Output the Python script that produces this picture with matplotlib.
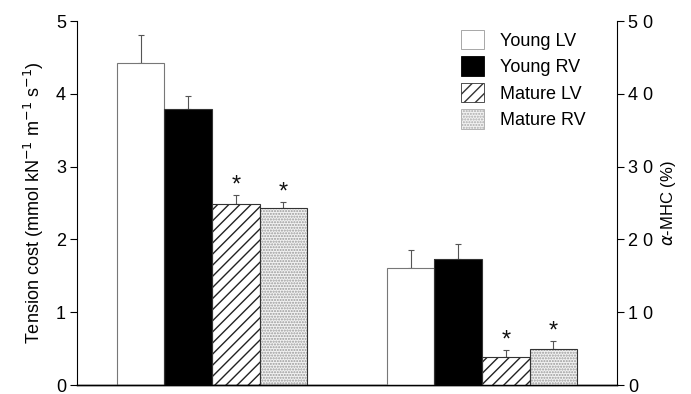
import matplotlib.pyplot as plt
import numpy as np
from matplotlib.patches import Patch
from matplotlib.ticker import FixedLocator, FixedFormatter

plt.rcParams['font.family'] = ['Liberation Sans', 'DejaVu Sans']

series = ["Young LV", "Young RV", "Mature LV", "Mature RV"]
# left group: tension cost (mmol kN-1 m-1 s-1)
tension = [4.42, 3.79, 2.49, 2.43]
tension_err = [0.39, 0.18, 0.12, 0.09]
# right group: alpha-MHC (%)
mhc = [16.1, 17.3, 3.8, 4.9]
mhc_err = [2.4, 2.0, 1.0, 1.2]
signif = [False, False, True, True]

left_ticks = [0, 1, 2, 3, 4, 5]
right_ticks = [0, 10, 20, 30, 40, 50]
right_ticklabels = ["0", "1 0", "2 0", "3 0", "4 0", "5 0"]

fig = plt.figure(figsize=(6.91, 3.94), dpi=100)
ax = fig.add_axes([77 / 691, 9 / 394, 540 / 691, 364 / 394])
ax2 = ax.twinx()

w = 1.0
x1 = np.arange(4) * w
x2 = x1 + 5.68
ax.set_xlim(-0.5 - 0.84, x2[-1] + 0.5 + 0.84)
ax.set_ylim(0, 5)
ax2.set_ylim(0, 50)

styles = [
    dict(facecolor="white", hatch=None, hcolor="#888888"),
    dict(facecolor="black", hatch=None, hcolor="black"),
    dict(facecolor="white", hatch="///", hcolor="#222222"),
    dict(facecolor="#f2f2f2", hatch="......", hcolor="#9a9a9a"),
]


def draw_bars(axis, xs, vals, errs, scale):
    for i, (x, v, e) in enumerate(zip(xs, vals, errs)):
        st = styles[i]
        axis.errorbar(x, v, yerr=[[0], [e]], fmt="none", ecolor="#555555",
                      elinewidth=0.8, capsize=2.5, capthick=0.8, zorder=1)
        axis.bar(x, v, width=w, color=st["facecolor"], edgecolor=st["hcolor"],
                 hatch=st["hatch"], linewidth=0, zorder=2)
        edge = "#777777" if i == 0 else "#333333"
        axis.bar(x, v, width=w, fill=False, edgecolor=edge, linewidth=0.8, zorder=3)
        if signif[i]:
            axis.text(x, v + e - 0.005 * scale, "*", ha="center", va="bottom",
                      fontsize=17, color="#111111")


draw_bars(ax, x1, tension, tension_err, 5)
draw_bars(ax2, x2, mhc, mhc_err, 50)

for a in (ax, ax2):
    a.spines["top"].set_visible(False)
    a.spines["left"].set_linewidth(0.8)
    a.spines["right"].set_linewidth(0.8)
    a.spines["bottom"].set_linewidth(1.0)
ax.spines["right"].set_visible(False)
ax2.spines["left"].set_visible(False)

ax.set_xticks([])
ax.yaxis.set_major_locator(FixedLocator(left_ticks))
ax.tick_params(axis="y", labelsize=13, length=5, width=0.8, pad=3)
ax2.yaxis.set_major_locator(FixedLocator(right_ticks))
ax2.yaxis.set_major_formatter(FixedFormatter(right_ticklabels))
ax2.tick_params(axis="y", labelsize=13, length=5, width=0.8, pad=3)

ax.set_ylabel("Tension cost (mmol kN$^{-1}$ m$^{-1}$ s$^{-1}$)", fontsize=13, labelpad=7)
ax2.set_ylabel(r"$\alpha$-MHC (%)", fontsize=12, labelpad=4)

handles = [
    Patch(facecolor="white", edgecolor="#999999", linewidth=0.6),
    Patch(facecolor="black", edgecolor="black", linewidth=0.6),
    Patch(facecolor="white", edgecolor="#333333", hatch="///", linewidth=0.6),
    Patch(facecolor="#f2f2f2", edgecolor="#aaaaaa", hatch="......", linewidth=0.6),
]
fig.legend(handles, series, loc="upper left", bbox_to_anchor=(461 / 691, 1 - 30 / 394),
           frameon=False, fontsize=13, handlelength=1.25, handleheight=1.25,
           handletextpad=0.9, labelspacing=0.38, borderaxespad=0, borderpad=0)

fig.savefig("out.png", dpi=100)
